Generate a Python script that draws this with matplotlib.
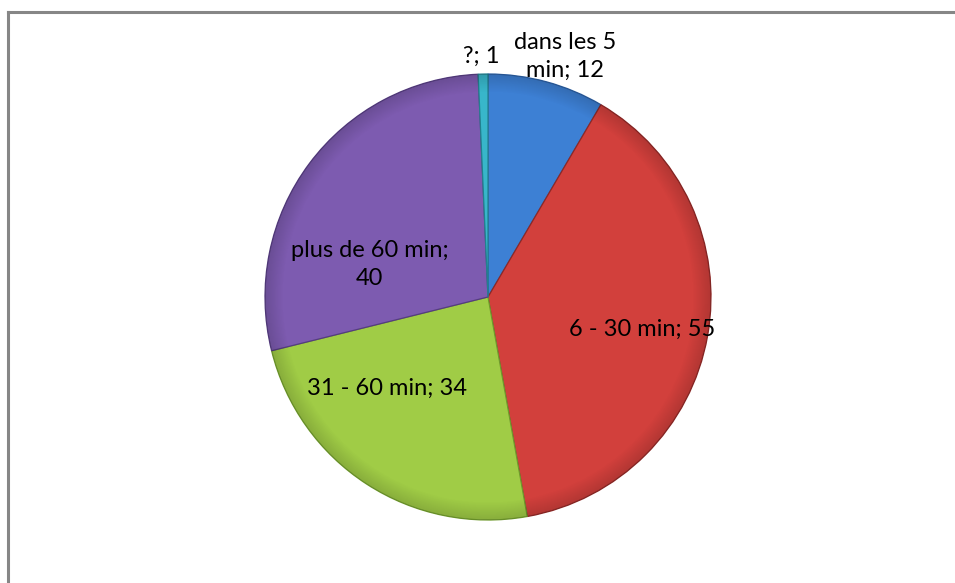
import matplotlib
matplotlib.use("Agg")
import matplotlib.pyplot as plt
from matplotlib.lines import Line2D
import numpy as np

# data (clockwise from 12 o'clock)
categories = ["dans les 5\nmin", "6 - 30 min", "31 - 60 min", "plus de 60 min;\n", "?"]
values = [12, 55, 34, 40, 1]
colors = ["#3d80d4", "#d2403c", "#a0cc46", "#7d5bb0", "#38b6ca"]
edge_colors = ["#2a5c9e", "#8e2826", "#6f9a2c", "#553c80", "#22808f"]

# label placement in axes units (pie radius = 1)
label_pos = [(0.345, 1.08), (0.69, -0.145), (-0.455, -0.41), (-0.53, 0.145), (-0.03, 1.078)]

W, H = 955, 583
fig = plt.figure(figsize=(W / 100, H / 100), dpi=100)

cx, cy, r = 488, 297, 223
ax = fig.add_axes([(cx - r) / W, (H - cy - r) / H, 2 * r / W, 2 * r / H])

wedges, _ = ax.pie(values, colors=colors, startangle=90, counterclock=False,
                   radius=1, wedgeprops=dict(linewidth=0.9))
for w, ec in zip(wedges, edge_colors):
    w.set_edgecolor(ec)

# soft shading to mimic the bevelled look
yy, xx = np.mgrid[-1:1:400j, -1:1:400j]
rr = np.sqrt(xx ** 2 + yy ** 2)
shade = np.zeros((400, 400, 4))
shade[..., 3] = np.clip((rr - 0.92) / 0.08, 0, 1) * 0.15
img = ax.imshow(shade, extent=[-1, 1, -1, 1], origin="lower", zorder=3)
circ = plt.Circle((0, 0), 1, transform=ax.transData)
img.set_clip_path(circ)

ax.set_xlim(-1, 1)
ax.set_ylim(-1, 1)
ax.set_aspect("equal")
ax.axis("off")

for cat, val, (lx, ly) in zip(categories, values, label_pos):
    if cat.endswith("\n"):
        txt = f"{cat}{val}"
    else:
        txt = f"{cat}; {val}"
    ax.text(lx, ly, txt, ha="center", va="center", fontsize=17,
            family=["Lato", "DejaVu Sans"], color="#000000",
            linespacing=1.4, zorder=5)

# chart frame (top and left edges visible)
fig.add_artist(Line2D([7.5 / W, 1.01], [1 - 11.5 / H, 1 - 11.5 / H],
                      color="#868686", linewidth=2.2, transform=fig.transFigure))
fig.add_artist(Line2D([7.5 / W, 7.5 / W], [1 - 11.5 / H, -0.01],
                      color="#868686", linewidth=2.2, transform=fig.transFigure))

fig.savefig("out.png", dpi=100)
